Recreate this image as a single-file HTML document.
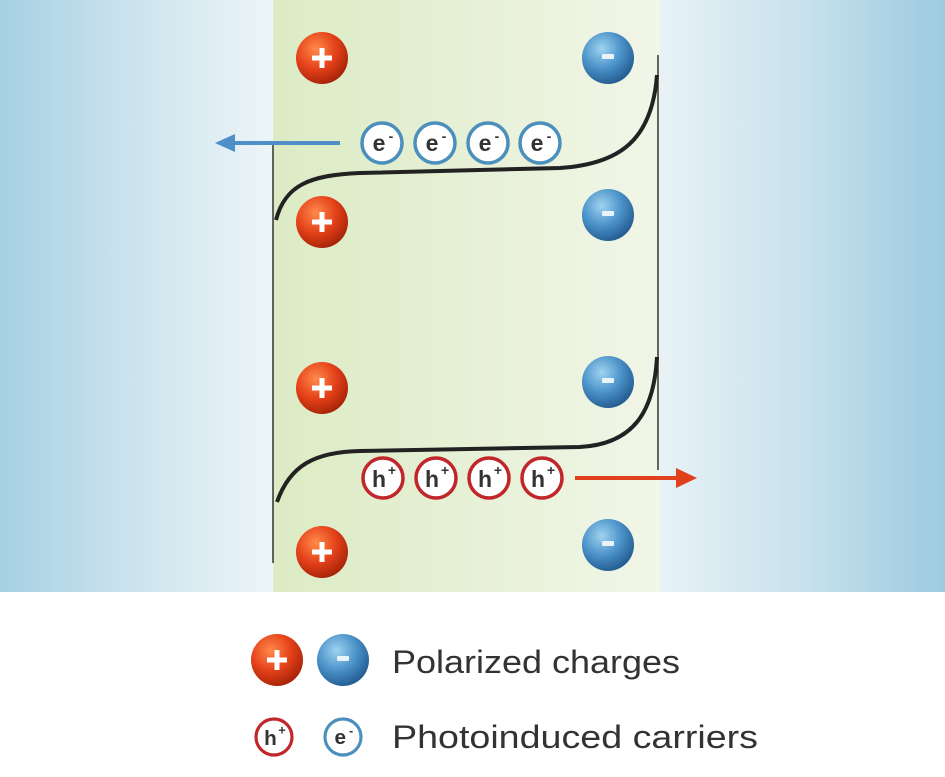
<!DOCTYPE html>
<html><head><meta charset="utf-8"><style>
html,body{margin:0;padding:0;background:#fff;}
svg{display:block;}
text{font-family:"Liberation Sans",sans-serif;}
</style></head><body>
<svg width="945" height="777" viewBox="0 0 945 777" xmlns="http://www.w3.org/2000/svg">
<defs>
<linearGradient id="lb" x1="0" x2="1" y1="0" y2="0">
<stop offset="0" stop-color="#a6d0e4"/><stop offset="0.5" stop-color="#cde4ee"/><stop offset="1" stop-color="#edf5f8"/>
</linearGradient>
<linearGradient id="rb" x1="0" x2="1" y1="0" y2="0">
<stop offset="0" stop-color="#e8f2f6"/><stop offset="0.5" stop-color="#c8e1ec"/><stop offset="1" stop-color="#9ccbe0"/>
</linearGradient>
<linearGradient id="gr" x1="0" x2="1" y1="0" y2="0">
<stop offset="0" stop-color="#dcebc4"/><stop offset="1" stop-color="#f1f6e8"/>
</linearGradient>
<radialGradient id="red" cx="0.38" cy="0.32" r="0.7">
<stop offset="0" stop-color="#ff8a4a"/><stop offset="0.55" stop-color="#e5421a"/><stop offset="1" stop-color="#a82408"/>
</radialGradient>
<radialGradient id="blue" cx="0.38" cy="0.32" r="0.7">
<stop offset="0" stop-color="#9fd3f0"/><stop offset="0.55" stop-color="#4a92c8"/><stop offset="1" stop-color="#245d92"/>
</radialGradient>
<g id="p"><circle r="26" fill="url(#red)"/><rect x="-10" y="-2.5" width="20" height="5" fill="#fff"/><rect x="-2.5" y="-10" width="5" height="20" fill="#fff"/></g>
<g id="m"><circle r="26" fill="url(#blue)"/><rect x="-6" y="-4" width="12" height="5" rx="1" fill="#e8f3fa"/></g>
<g id="e"><circle r="20" fill="#fff" stroke="#4b8fbd" stroke-width="3.5"/><text x="-3" y="8" font-size="23" font-weight="bold" fill="#333" text-anchor="middle">e</text><text x="9" y="-2" font-size="14" font-weight="bold" fill="#333" text-anchor="middle">-</text></g>
<g id="h"><circle r="20" fill="#fff" stroke="#c0262a" stroke-width="3.5"/><text x="-4" y="9" font-size="23" font-weight="bold" fill="#333" text-anchor="middle">h</text><text x="9" y="-3" font-size="14" font-weight="bold" fill="#333" text-anchor="middle">+</text></g>
</defs>
<rect x="0" y="0" width="273" height="592" fill="url(#lb)"/>
<rect x="660" y="0" width="285" height="592" fill="url(#rb)"/>
<rect x="273" y="0" width="387" height="592" fill="url(#gr)"/>
<line x1="273" y1="145" x2="273" y2="563" stroke="#333" stroke-width="1.5"/>
<line x1="658" y1="55" x2="658" y2="470" stroke="#333" stroke-width="1.5"/>
<path d="M276,220 C285,185 310,175 360,173 L560,168 C620,164 652,140 657,75" fill="none" stroke="#222" stroke-width="4"/>
<path d="M277,502 C290,465 315,452 360,451 L580,447 C635,444 654,410 657,357" fill="none" stroke="#222" stroke-width="4"/>
<line x1="340" y1="143" x2="232" y2="143" stroke="#4d8fc6" stroke-width="4"/>
<polygon points="215,143 235,134 235,152" fill="#4d8fc6"/>
<line x1="575" y1="478" x2="678" y2="478" stroke="#e0401c" stroke-width="4"/>
<polygon points="697,478 676,468 676,488" fill="#e0401c"/>
<use href="#p" x="322" y="58"/><use href="#p" x="322" y="222"/><use href="#p" x="322" y="388"/><use href="#p" x="322" y="552"/>
<use href="#m" x="608" y="58"/><use href="#m" x="608" y="215"/><use href="#m" x="608" y="382"/><use href="#m" x="608" y="545"/>
<use href="#e" x="382" y="143"/><use href="#e" x="435" y="143"/><use href="#e" x="488" y="143"/><use href="#e" x="540" y="143"/>
<use href="#h" x="383" y="478"/><use href="#h" x="436" y="478"/><use href="#h" x="489" y="478"/><use href="#h" x="542" y="478"/>
<use href="#p" x="277" y="660"/><use href="#m" x="343" y="660"/>
<g transform="translate(274,737) scale(0.9)"><use href="#h"/></g>
<g transform="translate(343,737) scale(0.9)"><use href="#e"/></g>
<text x="392" y="673" font-size="32" fill="#333" textLength="288" lengthAdjust="spacingAndGlyphs">Polarized charges</text>
<text x="392" y="748" font-size="32" fill="#333" textLength="366" lengthAdjust="spacingAndGlyphs">Photoinduced carriers</text>
</svg>
</body></html>
